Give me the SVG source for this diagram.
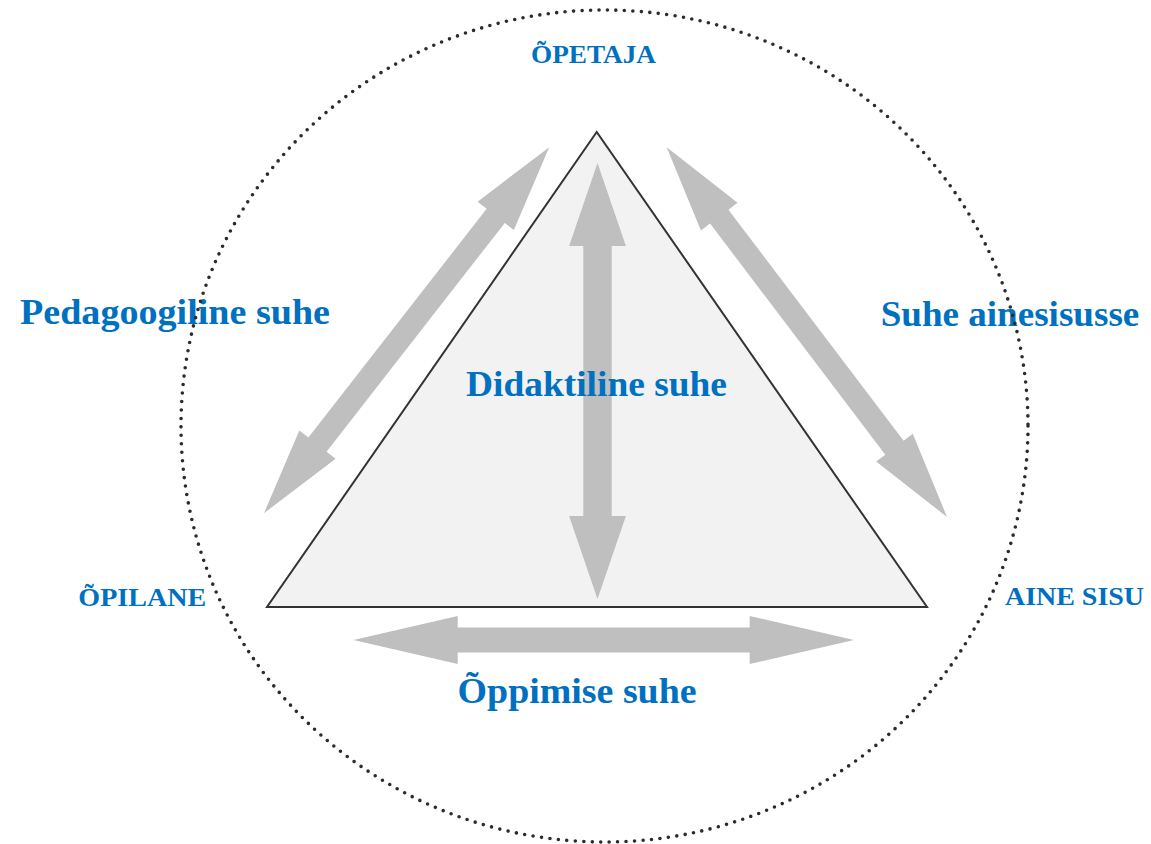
<svg xmlns="http://www.w3.org/2000/svg" width="1151" height="844" viewBox="0 0 1151 844">
<style>
.arrow{fill:#bfbfbf}
.lbl{font-family:"Liberation Serif","Times New Roman",serif;font-weight:bold;fill:#0070c0}
.big{font-size:35px}
.small{font-size:26px}
</style>
<rect width="1151" height="844" fill="#ffffff"/>
<g id="triangle">
<polygon points="596.7,132 267,607 927,607" fill="#f2f2f2" stroke="#333333" stroke-width="2" stroke-linejoin="miter"/>
</g>
<g id="connectors">
<polygon id="arrow-pedagoogiline" class="arrow" transform="translate(406.6,330.2) rotate(-52.07)" points="-232,0 -145,-23 -145,-11.5 145,-11.5 145,-23 232,0 145,23 145,11.5 -145,11.5 -145,23"/>
<polygon id="arrow-ainesisu" class="arrow" transform="translate(806.85,332.15) rotate(52.83)" points="-232,0 -145,-23 -145,-11.5 145,-11.5 145,-23 232,0 145,23 145,11.5 -145,11.5 -145,23"/>
<polygon id="arrow-didaktiline" class="arrow" transform="translate(597.5,381) rotate(90)" points="-218,0 -135,-28.4 -135,-14.2 135,-14.2 135,-28.4 218,0 135,28.4 135,14.2 -135,14.2 -135,28.4"/>
<polygon id="arrow-oppimise" class="arrow" transform="translate(603.7,640)" points="-250.2,0 -146,-24 -146,-12.4 146,-12.4 146,-24 250.2,0 146,24 146,12.4 -146,12.4 -146,24"/>
</g>
<g id="node-opetaja"><text class="lbl small" x="531" y="62.7" textLength="125" lengthAdjust="spacingAndGlyphs">ÕPETAJA</text></g>
<g id="node-opilane"><text class="lbl small" x="78.3" y="605.7" textLength="128" lengthAdjust="spacingAndGlyphs">ÕPILANE</text></g>
<g id="node-ainesisu"><text class="lbl small" x="1005" y="605" textLength="139" lengthAdjust="spacingAndGlyphs">AINE SISU</text></g>
<g id="label-pedagoogiline"><text class="lbl big" x="20" y="324.3" textLength="310" lengthAdjust="spacingAndGlyphs">Pedagoogiline suhe</text></g>
<g id="label-ainesisusse"><text class="lbl big" x="880.7" y="325.7" textLength="258.6" lengthAdjust="spacingAndGlyphs">Suhe ainesisusse</text></g>
<g id="label-didaktiline"><text class="lbl big" x="466" y="395.7" textLength="261" lengthAdjust="spacingAndGlyphs">Didaktiline suhe</text></g>
<g id="label-oppimise"><text class="lbl big" x="457.6" y="703" textLength="239" lengthAdjust="spacingAndGlyphs">Õppimise suhe</text></g>
<g id="circle">
<ellipse cx="604.5" cy="426" rx="423.5" ry="416" fill="none" stroke="#2b2b2b" stroke-width="3.6" stroke-linecap="round" stroke-dasharray="0 8.5"/>
</g>
</svg>
